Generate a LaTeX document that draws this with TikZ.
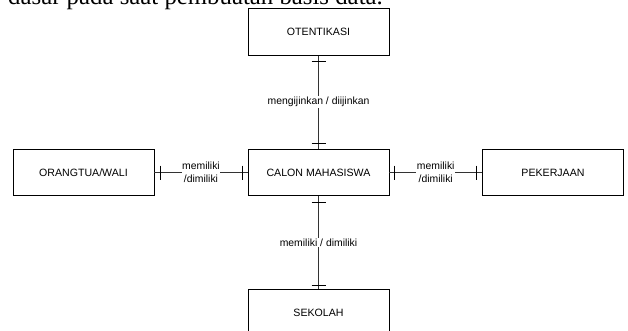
\documentclass[tikz,border=0pt]{standalone}
\usepackage{fontspec}
\setmainfont{Liberation Sans}
\newfontfamily\serifhead{Liberation Serif}
\usetikzlibrary{calc}
\begin{document}
\begin{tikzpicture}[x=1pt,y=-1pt,
  entity/.style={draw=black,line width=0.8pt,minimum width=141pt,minimum height=46.5pt,inner sep=0pt,font=\fontsize{10.6}{12}\selectfont},
  rel/.style={fill=white,inner sep=1pt,font=\fontsize{10.4}{13}\selectfont,align=center},
  link/.style={draw=black!80,line width=0.9pt},
  tick/.style={draw=black,line width=1.1pt}]
\clip (0,0) rectangle (628,330);
\fill[white] (0,0) rectangle (628,330);
\node[anchor=base west,inner sep=0pt,font=\serifhead\fontsize{24.8}{26}\selectfont] (head) at (8,4) {dasar pada saat pembuatan basis data.};
\node[entity] (ot) at (318.5,32) {OTENTIKASI};
\node[entity] (cm) at (318.5,172.5) {CALON MAHASISWA};
\node[entity] (ow) at (83.5,172.5) {ORANGTUA/WALI};
\node[entity] (pk) at (553,172.5) {PEKERJAAN};
\node[entity] (sk) at (318.5,312.5) {SEKOLAH};
% connectors
\draw[link] (ot.south) -- (cm.north) node[rel,midway] (l1) {mengijinkan / diijinkan};
\draw[link] (cm.south) -- (sk.north) node[rel,midway] (l2) {memiliki / dimiliki};
\draw[link] (ow.east) -- (cm.west) node[rel,midway,inner sep=0.5pt] (l3) {memiliki\\/dimiliki};
\draw[link] (cm.east) -- (pk.west) node[rel,midway,inner sep=0.5pt] (l4) {memiliki\\/dimiliki};
% ticks
\draw[tick] ($(ot.south)+(-7,5.5)$) -- ++(14,0);
\draw[tick] ($(cm.north)+(-7,-5)$) -- ++(14,0);
\draw[tick] ($(cm.south)+(-7,6)$) -- ++(14,0);
\draw[tick] ($(sk.north)+(-7,-3)$) -- ++(14,0);
\draw[tick] ($(ow.east)+(6,-7)$) -- ++(0,14);
\draw[tick] ($(cm.west)+(-5,-7)$) -- ++(0,14);
\draw[tick] ($(cm.east)+(5,-7)$) -- ++(0,14);
\draw[tick] ($(pk.west)+(-6,-7)$) -- ++(0,14);
\end{tikzpicture}
\end{document}
